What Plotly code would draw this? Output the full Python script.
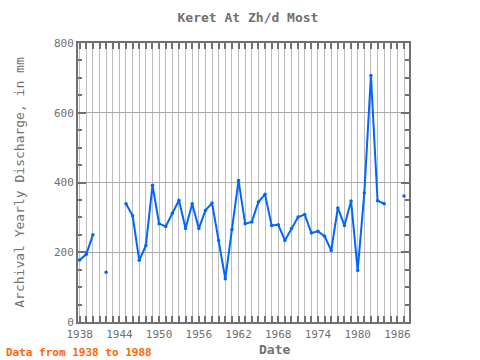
import plotly.graph_objects as go

years = list(range(1938, 1988))
discharge = [178, 194, 250, None, 143, None, None, 339, 305, 177,
             219, 392, 282, 274, 312, 349, 268, 339, 268, 320,
             341, 234, 124, 265, 406, 282, 287, 344, 366, 277,
             279, 234, 268, 301, 308, 255, 260, 246, 205, 327,
             277, 347, 148, 370, 707, 348, 339, None, None, 361]
x_ticks = [1938, 1944, 1950, 1956, 1962, 1968, 1974, 1980, 1986]
y_ticks = [0, 200, 400, 600, 800]

FONT = "DejaVu Sans Mono"
GRAY = "#707070"
GRID = "#bdbdbd"
PLOT_W = 480 - 78 - 71
PLOT_H = 360 - 43 - 38

fig = go.Figure()
fig.add_trace(go.Scatter(
    x=years, y=discharge, mode="lines+markers",
    line=dict(color="#0066ff", width=2),
    marker=dict(color="#0066ff", size=3.5),
    connectgaps=False, showlegend=False,
))

fig.update_layout(
    width=480, height=360,
    margin=dict(l=78, r=71, t=43, b=38),
    paper_bgcolor="white", plot_bgcolor="white",
    font=dict(family=FONT, color=GRAY, size=11),
    title=dict(text="<b>Keret At Zh/d Most</b>", x=248 / 480, xanchor="center",
               y=1 - 17 / 360, yanchor="middle",
               font=dict(family=FONT, size=13, color=GRAY)),
    xaxis=dict(
        range=[1937.75, 1987.75], tickvals=x_ticks, ticktext=[str(v) for v in x_ticks],
        showgrid=True, gridcolor=GRID, gridwidth=1,
        ticks="inside", ticklen=6, tickcolor=GRAY, tickwidth=2,
        showline=True, linecolor=GRAY, linewidth=2, mirror="allticks",
        zeroline=False, ticklabelstandoff=1,
        minor=dict(dtick=1, tick0=1938, showgrid=True, gridcolor=GRID,
                   gridwidth=1, ticks="inside", ticklen=6, tickcolor=GRAY, tickwidth=2),
        tickfont=dict(family=FONT, size=11, color=GRAY),
    ),
    yaxis=dict(
        range=[0, 800], tickvals=y_ticks,
        showgrid=True, gridcolor="#aaaaaa", gridwidth=1,
        ticks="inside", ticklen=8, tickcolor=GRAY, tickwidth=2,
        showline=True, linecolor=GRAY, linewidth=2, mirror="allticks",
        zeroline=False,
        minor=dict(dtick=50, ticks="inside", ticklen=4, tickcolor=GRAY, tickwidth=2,
                   showgrid=False),
        tickfont=dict(family=FONT, size=11, color=GRAY),
        title=dict(text="Archival Yearly Discharge, in mm", standoff=26,
                   font=dict(family=FONT, size=13, color=GRAY)),
    ),
    annotations=[
        dict(text="<b>Date</b>", xref="paper", yref="paper", x=(274 - 78) / PLOT_W,
             y=-(349 - 322) / PLOT_H, xanchor="center", yanchor="middle", showarrow=False,
             font=dict(family=FONT, size=13, color=GRAY)),
        dict(text="<b>Data from 1938 to 1988</b>", xref="paper", yref="paper",
             x=-(78 - 4) / PLOT_W, y=-(352 - 322) / PLOT_H, xanchor="left",
             yanchor="middle", showarrow=False,
             font=dict(family=FONT, size=11, color="#ff6600")),
    ],
)

fig.write_html("out.html", config={"displayModeBar": False},
               post_script="document.body.style.margin='0';")
